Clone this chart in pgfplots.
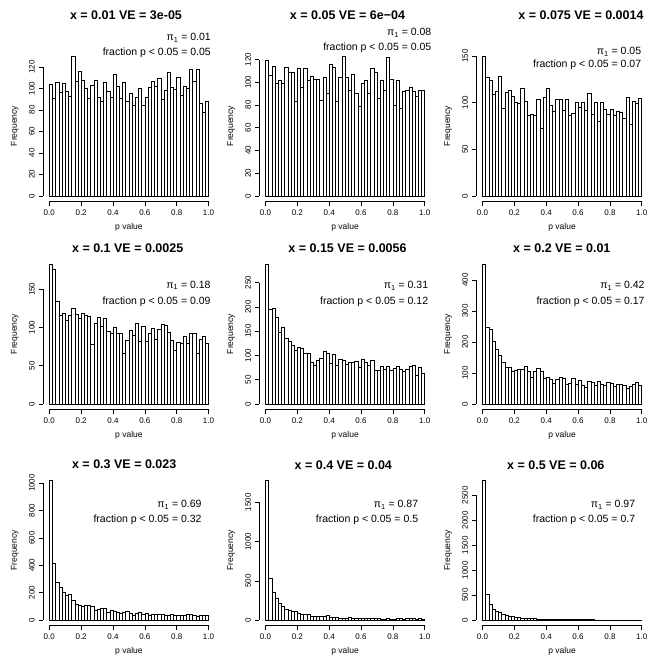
\documentclass[border=0pt]{standalone}
\usepackage{fontspec}
\setmainfont{Liberation Sans}
\usepackage{pgfplots}
\usepackage{pgfplotstable}
\pgfplotsset{compat=1.18}
\pgfplotstableread{
x a b c d e f g h i
0.00 104 119 150 183 288 452 1020 1780 2800
0.02 91 106 127 176 196 247 415 535 520
0.04 106 114 124 134 198 240 278 355 320
0.06 96 99 109 116 178 203 240 275 215
0.08 105 102 112 119 147 178 200 220 180
0.10 97 99 128 109 158 157 178 175 150
0.12 93 113 94 116 136 134 190 140 110
0.14 130 109 111 125 130 120 143 125 90
0.16 107 109 113 118 121 120 115 115 75
0.18 116 83 107 112 110 104 110 110 68
0.20 108 112 100 119 116 110 100 90 60
0.22 100 96 99 116 114 111 107 80 48
0.24 91 112 115 115 105 111 106 78 42
0.26 103 102 102 78 105 122 103 70 38
0.28 108 105 87 105 86 106 75 55 35
0.30 92 103 88 113 79 86 80 48 30
0.32 88 103 87 102 90 107 86 45 28
0.34 106 84 104 112 95 116 86 50 25
0.36 97 104 73 95 108 104 58 52 22
0.38 92 90 106 93 104 84 73 60 20
0.40 113 116 115 100 84 85 62 40 18
0.42 102 113 97 92 102 80 57 38 16
0.44 91 83 91 92 79 68 53 35 15
0.46 106 104 104 66 93 80 55 30 14
0.48 88 123 104 83 89 85 62 28 13
0.50 95 104 92 97 81 83 50 25 12
0.52 84 93 104 90 86 65 38 32 12
0.54 92 107 87 105 86 66 47 28 10
0.56 100 90 89 82 88 82 57 25 10
0.58 84 79 100 102 76 65 44 27 10
0.60 92 99 95 82 93 76 50 22 9
0.62 101 102 101 93 85 60 38 22 9
0.64 107 90 92 99 80 55 43 24 8
0.66 102 112 110 84 89 73 45 18 8
0.68 109 109 88 98 70 70 44 20 8
0.70 90 86 100 104 69 60 42 18 7
0.72 98 102 80 103 78 72 36 16 7
0.74 115 93 101 94 72 62 33 15 7
0.76 101 122 93 83 78 60 42 18 6
0.78 99 103 88 70 69 69 38 14 6
0.80 110 80 93 81 74 68 37 15 6
0.82 94 102 86 80 77 56 37 18 6
0.84 102 77 91 89 71 62 38 22 5
0.86 100 92 90 79 67 62 42 15 5
0.88 118 93 83 93 71 60 40 20 5
0.90 107 96 106 92 77 50 33 25 5
0.92 118 92 77 66 80 57 28 20 5
0.94 86 88 102 85 60 62 35 15 5
0.96 78 93 99 88 75 69 33 20 5
0.98 88 93 105 80 64 60 35 14 5
1.00 88 93 105 80 64 60 35 14 5
}\data

\newcommand\tkf{\fontsize{8bp}{9.6bp}\selectfont}
\newcommand\labf{\fontsize{8.5bp}{10bp}\selectfont}
\newcommand\ttlf{\fontsize{12.5bp}{15bp}\selectfont\bfseries}
\newcommand\annf{\fontsize{10.5bp}{12.6bp}\selectfont}

\pgfplotsset{hist/.style={
  scale only axis, width=172bp, height=151bp,
  anchor=south west, clip=false,
  xmin=-0.04, xmax=1.04,
  axis x line*=bottom, axis y line*=left,
  axis line style={draw=none},
  tick align=outside, major tick length=4bp,
  tick style={black, line width=0.5bp},
  minor tick num=0,
  xtick={0,0.2,0.4,0.6,0.8,1},
  xticklabels={0.0,0.2,0.4,0.6,0.8,1.0},
  scaled ticks=false,
  /pgf/number format/assume math mode=true,
  /pgf/number format/1000 sep={},
  tick label style={font=\tkf},
  xticklabel style={anchor=north, inner sep=0pt},
  yticklabel style={rotate=90, anchor=south, inner sep=0pt},
  xticklabel shift=4bp,
  yticklabel shift=4bp,
}}

\newcommand\panel[7]{%
\begin{axis}[hist, at={(#1bp,-#2bp)}, ymin=#4, ymax=#5, ytick={#6}]
\addplot[ybar interval, fill=white, draw=black, line width=0.5bp] table[x=x,y=#3]{\data};
\draw[line width=0.5bp] (axis cs:0,#4) -- (axis cs:1,#4);
\draw[line width=0.5bp] (axis cs:-0.04,0) -- (axis cs:-0.04,#7);
\end{axis}
\node[font=\labf] at ({#1+86},{-#2-26}) {p value};
\node[font=\labf, rotate=90] at ({#1-28},{-#2+75.5}) {Frequency};
}

\newcommand\ann[5]{%
\node[font=\annf, anchor=base east, inner sep=0pt] at (#1,{-(#2+3.7)}) {π\textsubscript{1} = #4};
\node[font=\annf, anchor=base east, inner sep=0pt] at (#1,{-(#3+3.7)}) {fraction p < 0.05 = #5};
}

\begin{document}
\begin{tikzpicture}[x=1bp,y=1bp]
\useasboundingbox[fill=white] (0,0) rectangle (658,-666);
\panel{42.9}{201.5}{a}{-5.2}{135.2}{0,20,40,60,80,100,120}{120}
\panel{259.1}{201.5}{b}{-4.92}{127.92}{0,20,40,60,80,100,120}{120}
\panel{476.1}{201.5}{c}{-6}{156}{0,50,100,150}{150}
\panel{42.9}{409.5}{d}{-7.32}{190.32}{0,50,100,150}{150}
\panel{259.1}{409.5}{e}{-11.52}{299.52}{0,50,100,150,200,250}{250}
\panel{476.1}{409.5}{f}{-18.08}{470.08}{0,100,200,300,400}{400}
\panel{42.9}{625.7}{g}{-40.8}{1060.8}{0,200,400,600,800,1000}{1000}
\panel{259.1}{625.7}{h}{-71.2}{1851.2}{0,500,1000,1500}{1500}
\panel{476.1}{625.7}{i}{-112}{2912}{0,500,1000,1500,2000,2500}{2500}

\node[font=\ttlf] at (126,-15) {x = 0.01 VE = 3e-05};
\node[font=\ttlf] at (347.5,-15) {x = 0.05 VE = 6e−04};
\node[font=\ttlf] at (581,-15) {x = 0.075 VE = 0.0014};
\node[font=\ttlf] at (127.7,-248) {x = 0.1 VE = 0.0025};
\node[font=\ttlf] at (347.5,-248) {x = 0.15 VE = 0.0056};
\node[font=\ttlf] at (561.8,-248) {x = 0.2 VE = 0.01};
\node[font=\ttlf] at (124.2,-464.7) {x = 0.3 VE = 0.023};
\node[font=\ttlf] at (343.3,-464.7) {x = 0.4 VE = 0.04};
\node[font=\ttlf] at (555.8,-464.7) {x = 0.5 VE = 0.06};

\ann{211}{37.3}{52.3}{0.01}{0.05}
\ann{431.5}{32.3}{46.7}{0.08}{0.05}
\ann{641.3}{50.7}{64}{0.05}{0.07}
\ann{210.7}{284.3}{301}{0.18}{0.09}
\ann{428.3}{285}{301}{0.31}{0.12}
\ann{644.7}{285}{301}{0.42}{0.17}
\ann{201.7}{504}{518.5}{0.69}{0.32}
\ann{418.3}{504}{518.5}{0.87}{0.5}
\ann{635.3}{504}{518.5}{0.97}{0.7}
\end{tikzpicture}
\end{document}
